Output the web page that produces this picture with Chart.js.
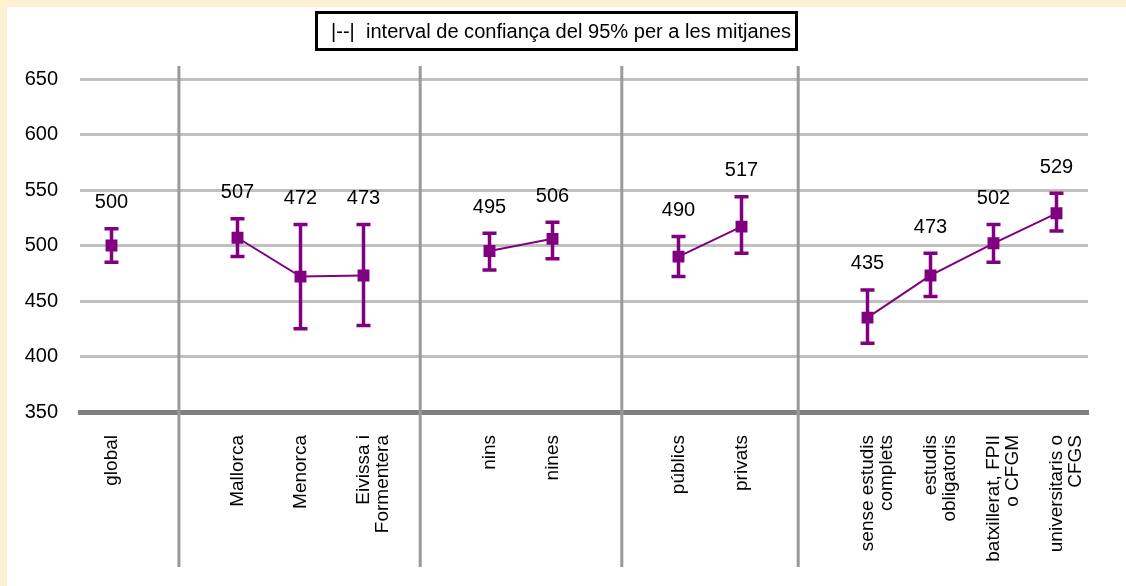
<!DOCTYPE html>
<html>
<head>
<meta charset="utf-8">
<script src="https://cdn.jsdelivr.net/npm/chart.js@4.4.0/dist/chart.umd.min.js"></script>
<style>
  body { margin: 0; background: #fff; overflow: hidden; }
</style>
</head>
<body>
<canvas id="myChart" width="1126" height="586"></canvas>
<script>
// categories (the '' slots are the gaps between groups)
const categories = [
  'global', '',
  'Mallorca', 'Menorca', ['Eivissa i', 'Formentera'], '',
  'nins', 'nines', '',
  'públics', 'privats', '',
  ['sense estudis', 'complets'], ['estudis', 'obligatoris'], ['batxillerat, FPII', 'o CFGM'], ['universitaris o', 'CFGS']
];
const mitjanes = [500, null, 507, 472, 473, null, 495, 506, null, 490, 517, null, 435, 473, 502, 529];
const limitInferior = [485, null, 490, 425, 428, null, 478, 488, null, 472, 493, null, 412, 454, 485, 513];
const limitSuperior = [515, null, 524, 519, 519, null, 511, 521, null, 508, 544, null, 460, 493, 519, 547];
const yTicks = [350, 400, 450, 500, 550, 600, 650];
// group dividers, in category index units
const separadors = [1.07, 4.9, 8.1, 10.9];
const titol = '|--|  interval de confiança del 95% per a les mitjanes';

const purple = '#800080';
const fontFamily = '"Liberation Sans", Arial, sans-serif';

const fons = {
  id: 'fons',
  beforeDraw(chart) {
    const c = chart.ctx;
    c.save();
    c.fillStyle = '#fef1d2';
    c.fillRect(0, 0, chart.width, chart.height);
    c.fillStyle = '#ffffff';
    c.fillRect(7, 7, chart.width - 7, chart.height - 7);
    c.restore();
  }
};

// vertical lines between the groups, error bars, value labels, title box
const extres = {
  id: 'extres',
  beforeDatasetsDraw(chart) {
    const c = chart.ctx;
    const x = chart.scales.x, y = chart.scales.y;
    c.save();
    c.strokeStyle = '#9a9a9a';
    c.lineWidth = 3;
    separadors.forEach(v => {
      const px = x.getPixelForValue(v);
      c.beginPath();
      c.moveTo(px, 66);
      c.lineTo(px, 567);
      c.stroke();
    });

    c.strokeStyle = purple;
    c.lineWidth = 3.5;
    mitjanes.forEach((m, i) => {
      if (m === null) return;
      const px = x.getPixelForValue(i);
      const top = y.getPixelForValue(limitSuperior[i]);
      const bot = y.getPixelForValue(limitInferior[i]);
      c.beginPath();
      c.moveTo(px, top); c.lineTo(px, bot);
      c.moveTo(px - 7, top); c.lineTo(px + 7, top);
      c.moveTo(px - 7, bot); c.lineTo(px + 7, bot);
      c.stroke();
    });
    c.restore();
  },
  afterDatasetsDraw(chart) {
    const c = chart.ctx;
    const x = chart.scales.x, y = chart.scales.y;
    c.save();
    c.fillStyle = '#000';
    c.font = '20px ' + fontFamily;
    c.textAlign = 'center';
    c.textBaseline = 'middle';
    mitjanes.forEach((m, i) => {
      if (m === null) return;
      c.fillText(String(m), x.getPixelForValue(i), y.getPixelForValue(limitSuperior[i]) - 26);
    });
    c.restore();
  },
  afterDraw(chart) {
    const c = chart.ctx;
    c.save();
    c.strokeStyle = '#000';
    c.lineWidth = 3;
    c.fillStyle = '#fff';
    c.beginPath();
    c.rect(316.5, 12.5, 480, 37);
    c.fill();
    c.stroke();
    c.fillStyle = '#000';
    c.font = '20px ' + fontFamily;
    c.textBaseline = 'middle';
    const w = c.measureText(titol).width;
    const target = 460;
    c.translate(331, 32);
    c.scale(target / w, 1);
    c.fillText(titol, 0, 0);
    c.restore();
  }
};

const ctx = document.querySelector('#myChart');

const graphData = {
  type: 'line',
  data: {
    labels: categories,
    datasets: [{
      data: mitjanes,
      borderColor: purple,
      backgroundColor: purple,
      borderWidth: 2,
      pointStyle: 'rect',
      pointRadius: 7,
      pointHoverRadius: 7,
      spanGaps: false,
      tension: 0
    }]
  },
  options: {
    responsive: false,
    animation: false,
    layout: { padding: { top: 79, right: 38, left: 0, bottom: 0 } },
    plugins: {
      legend: { display: false },
      tooltip: { enabled: false }
    },
    scales: {
      x: {
        offset: true,
        grid: { display: false, drawTicks: false },
        border: { display: true, color: '#808080', width: 5 },
        ticks: {
          autoSkip: false,
          minRotation: 90,
          maxRotation: 90,
          padding: 23,
          color: '#000',
          font: { family: fontFamily, size: 19, lineHeight: 1 }
        },
        afterFit(s) { s.height = 174; }
      },
      y: {
        min: yTicks[0],
        max: yTicks[yTicks.length - 1],
        afterBuildTicks(s) { s.ticks = yTicks.map(v => ({ value: v })); },
        grid: {
          drawTicks: false,
          lineWidth: 3,
          color: c => (c.tick && c.tick.value === yTicks[0]) ? 'rgba(0,0,0,0)' : '#c0c0c0'
        },
        border: { display: false },
        ticks: {
          padding: 22,
          color: '#000',
          font: { family: fontFamily, size: 20 }
        },
        afterFit(s) { s.width = 80; }
      }
    }
  },
  plugins: [fons, extres]
};

const myChart = new Chart(ctx, graphData);
</script>
</body>
</html>
